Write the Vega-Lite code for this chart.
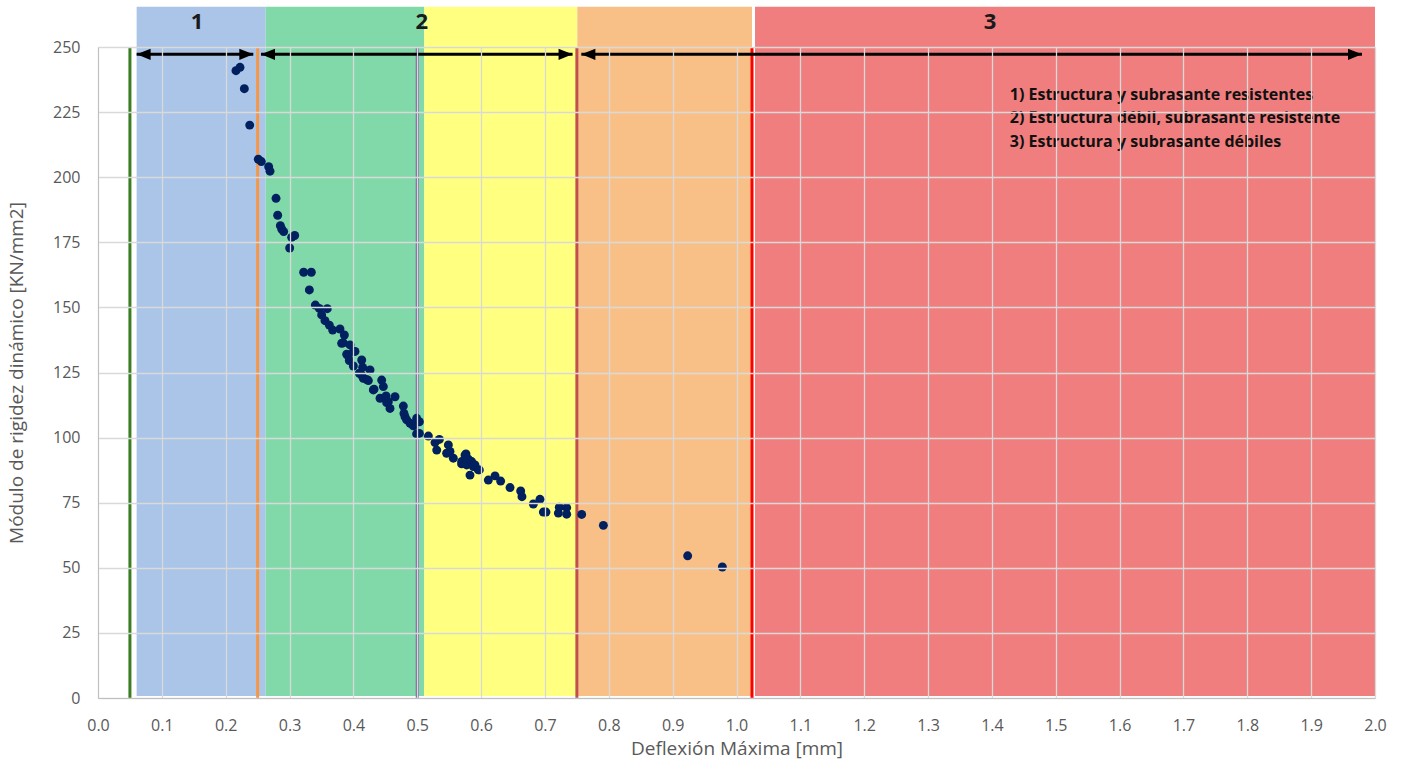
{
  "$schema": "https://vega.github.io/schema/vega-lite/v6.json",
  "width": 1277,
  "height": 651,
  "autosize": {"type": "none"},
  "padding": {"left": 98, "top": 47, "right": 29, "bottom": 69},
  "background": "white",
  "config": {
    "font": "Open Sans",
    "view": {"stroke": null},
    "axis": {
      "labelColor": "#595959",
      "titleColor": "#595959",
      "labelFontSize": 16,
      "titleFontSize": 19,
      "titleFontWeight": "normal",
      "domainColor": "#bfbfbf",
      "gridColor": "#d9d9d9",
      "gridWidth": 1.3,
      "ticks": false,
      "labelFlush": false
    }
  },
  "datasets": {
    "puntos": [
      {"deflexion": 0.2161, "modulo": 240.9}, {"deflexion": 0.2224, "modulo": 242.2},
      {"deflexion": 0.2292, "modulo": 234.0}, {"deflexion": 0.2376, "modulo": 220.0},
      {"deflexion": 0.2511, "modulo": 206.9}, {"deflexion": 0.2558, "modulo": 206.0},
      {"deflexion": 0.2673, "modulo": 204.0}, {"deflexion": 0.2694, "modulo": 202.3},
      {"deflexion": 0.2788, "modulo": 191.9}, {"deflexion": 0.2814, "modulo": 185.4},
      {"deflexion": 0.2856, "modulo": 181.4}, {"deflexion": 0.2877, "modulo": 180.1},
      {"deflexion": 0.2908, "modulo": 179.1}, {"deflexion": 0.3033, "modulo": 176.9},
      {"deflexion": 0.3080, "modulo": 177.6}, {"deflexion": 0.3002, "modulo": 172.8},
      {"deflexion": 0.3221, "modulo": 163.5}, {"deflexion": 0.3341, "modulo": 163.5},
      {"deflexion": 0.3310, "modulo": 156.7}, {"deflexion": 0.3404, "modulo": 150.9},
      {"deflexion": 0.3466, "modulo": 149.6}, {"deflexion": 0.3591, "modulo": 149.5},
      {"deflexion": 0.3503, "modulo": 147.1}, {"deflexion": 0.3555, "modulo": 144.9},
      {"deflexion": 0.3623, "modulo": 143.2}, {"deflexion": 0.3675, "modulo": 141.3},
      {"deflexion": 0.3790, "modulo": 141.7}, {"deflexion": 0.3858, "modulo": 139.4},
      {"deflexion": 0.3816, "modulo": 136.2}, {"deflexion": 0.3842, "modulo": 136.4},
      {"deflexion": 0.3947, "modulo": 135.6}, {"deflexion": 0.3895, "modulo": 132.0},
      {"deflexion": 0.3920, "modulo": 131.3}, {"deflexion": 0.3999, "modulo": 133.1},
      {"deflexion": 0.4025, "modulo": 133.1}, {"deflexion": 0.3936, "modulo": 129.6},
      {"deflexion": 0.3999, "modulo": 127.5}, {"deflexion": 0.4130, "modulo": 129.8},
      {"deflexion": 0.4145, "modulo": 127.0}, {"deflexion": 0.4260, "modulo": 126.0},
      {"deflexion": 0.4093, "modulo": 124.7}, {"deflexion": 0.4130, "modulo": 124.0},
      {"deflexion": 0.4155, "modulo": 122.8}, {"deflexion": 0.4208, "modulo": 122.3},
      {"deflexion": 0.4234, "modulo": 121.9}, {"deflexion": 0.4443, "modulo": 122.1},
      {"deflexion": 0.4469, "modulo": 119.6}, {"deflexion": 0.4323, "modulo": 118.6},
      {"deflexion": 0.4312, "modulo": 118.3}, {"deflexion": 0.4417, "modulo": 115.1},
      {"deflexion": 0.4511, "modulo": 116.0}, {"deflexion": 0.4652, "modulo": 115.7},
      {"deflexion": 0.4521, "modulo": 113.4}, {"deflexion": 0.4547, "modulo": 113.8},
      {"deflexion": 0.4573, "modulo": 111.2}, {"deflexion": 0.4782, "modulo": 112.1},
      {"deflexion": 0.4792, "modulo": 109.3}, {"deflexion": 0.4808, "modulo": 108.0},
      {"deflexion": 0.4835, "modulo": 106.8}, {"deflexion": 0.4887, "modulo": 105.5},
      {"deflexion": 0.4939, "modulo": 104.5}, {"deflexion": 0.4991, "modulo": 107.4},
      {"deflexion": 0.5033, "modulo": 106.1}, {"deflexion": 0.5033, "modulo": 101.6},
      {"deflexion": 0.4990, "modulo": 101.4}, {"deflexion": 0.5174, "modulo": 100.6},
      {"deflexion": 0.5278, "modulo": 98.1}, {"deflexion": 0.5346, "modulo": 99.3},
      {"deflexion": 0.5305, "modulo": 95.2}, {"deflexion": 0.5487, "modulo": 97.2},
      {"deflexion": 0.5460, "modulo": 94.0}, {"deflexion": 0.5513, "modulo": 94.7},
      {"deflexion": 0.5565, "modulo": 92.1}, {"deflexion": 0.5696, "modulo": 90.8},
      {"deflexion": 0.5695, "modulo": 89.9}, {"deflexion": 0.5748, "modulo": 93.3},
      {"deflexion": 0.5763, "modulo": 93.7}, {"deflexion": 0.5800, "modulo": 91.7},
      {"deflexion": 0.5852, "modulo": 90.8}, {"deflexion": 0.5904, "modulo": 89.5},
      {"deflexion": 0.5972, "modulo": 87.6}, {"deflexion": 0.5774, "modulo": 89.5},
      {"deflexion": 0.5826, "modulo": 85.6}, {"deflexion": 0.5878, "modulo": 88.9},
      {"deflexion": 0.5957, "modulo": 87.6}, {"deflexion": 0.6113, "modulo": 83.7},
      {"deflexion": 0.6218, "modulo": 85.3}, {"deflexion": 0.6306, "modulo": 83.3},
      {"deflexion": 0.6453, "modulo": 80.8}, {"deflexion": 0.6620, "modulo": 79.5},
      {"deflexion": 0.6640, "modulo": 77.3}, {"deflexion": 0.6818, "modulo": 74.5},
      {"deflexion": 0.6922, "modulo": 76.3}, {"deflexion": 0.6975, "modulo": 71.4},
      {"deflexion": 0.7016, "modulo": 71.4}, {"deflexion": 0.7210, "modulo": 71.0},
      {"deflexion": 0.7225, "modulo": 73.3}, {"deflexion": 0.7340, "modulo": 73.1},
      {"deflexion": 0.7340, "modulo": 70.6}, {"deflexion": 0.7575, "modulo": 70.5},
      {"deflexion": 0.7915, "modulo": 66.3}, {"deflexion": 0.9235, "modulo": 54.6},
      {"deflexion": 0.9778, "modulo": 50.3}
    ],
    "zonas": [
      {"zona": "A", "desde": 0.0605, "hasta": 0.2626},
      {"zona": "B", "desde": 0.2626, "hasta": 0.5110},
      {"zona": "C", "desde": 0.5110, "hasta": 0.7507},
      {"zona": "D", "desde": 0.7507, "hasta": 1.0243},
      {"zona": "E", "desde": 1.0290, "hasta": 2.0}
    ],
    "limites": [
      {"tipo": "L1", "valor": 0.05},
      {"tipo": "L2", "valor": 0.25},
      {"tipo": "L3", "valor": 0.5},
      {"tipo": "L4", "valor": 0.75},
      {"tipo": "L5", "valor": 1.0243}
    ],
    "flechas": [
      {"inicio": 0.0605, "fin": 0.2432},
      {"inicio": 0.2553, "fin": 0.7432},
      {"inicio": 0.7570, "fin": 1.9796}
    ],
    "numeros": [
      {"x": 0.155, "etiqueta": "1"},
      {"x": 0.507, "etiqueta": "2"},
      {"x": 1.397, "etiqueta": "3"}
    ],
    "leyenda": [
      {"x": 1.428, "y": 231.6, "texto": "1) Estructura y subrasante resistentes"},
      {"x": 1.428, "y": 222.6, "texto": "2) Estructura débil, subrasante resistente"},
      {"x": 1.428, "y": 213.5, "texto": "3) Estructura y subrasante débiles"}
    ]
  },
  "layer": [
    {
      "data": {"name": "zonas"},
      "mark": {"type": "rect", "clip": false},
      "encoding": {
        "x": {"field": "desde", "type": "quantitative",
              "scale": {"domain": [0, 2], "nice": false},
              "axis": {"title": "Deflexión Máxima [mm]", "values": [0, 0.1, 0.2, 0.3, 0.4, 0.5, 0.6, 0.7, 0.8, 0.9, 1.0, 1.1, 1.2, 1.3, 1.4, 1.5, 1.6, 1.7, 1.8, 1.9, 2.0], "format": ".1f", "labelPadding": 19, "titlePadding": 6, "grid": true, "zindex": 1}},
        "x2": {"field": "hasta"},
        "y": {"datum": 0.8, "type": "quantitative",
              "scale": {"domain": [0, 250], "nice": false},
              "axis": {"title": "Módulo de rigidez dinámico [KN/mm2]", "values": [0, 25, 50, 75, 100, 125, 150, 175, 200, 225, 250], "labelPadding": 18, "titlePadding": 26, "grid": true, "zindex": 1}},
        "y2": {"datum": 265.5},
        "fill": {"field": "zona", "type": "nominal", "legend": null,
                 "scale": {"domain": ["A", "B", "C", "D", "E"], "range": ["#aac5e8", "#81d9a9", "#ffff80", "#f8c087", "#f07e7e"]}}
      }
    },
    {
      "data": {"name": "limites"},
      "mark": {"type": "rule", "strokeWidth": 3},
      "encoding": {
        "x": {"field": "valor", "type": "quantitative"},
        "y": {"datum": 0, "type": "quantitative"},
        "y2": {"datum": 250},
        "stroke": {"field": "tipo", "type": "nominal", "legend": null,
                   "scale": {"domain": ["L1", "L2", "L3", "L4", "L5"], "range": ["#3a7d22", "#f79646", "#8064a2", "#c0504d", "#ff0000"]}}
      }
    },
    {
      "data": {"name": "flechas"},
      "mark": {"type": "rule", "strokeWidth": 3, "color": "black"},
      "encoding": {
        "x": {"field": "inicio", "type": "quantitative"},
        "x2": {"field": "fin"},
        "y": {"datum": 247.2, "type": "quantitative"}
      }
    },
    {
      "data": {"name": "flechas"},
      "mark": {"type": "point", "filled": true, "color": "black", "opacity": 1, "size": 196, "shape": "M0,0L2,-0.8L2,0.8Z"},
      "encoding": {
        "x": {"field": "inicio", "type": "quantitative"},
        "y": {"datum": 247.2, "type": "quantitative"}
      }
    },
    {
      "data": {"name": "flechas"},
      "mark": {"type": "point", "filled": true, "color": "black", "opacity": 1, "size": 196, "shape": "M0,0L-2,-0.8L-2,0.8Z"},
      "encoding": {
        "x": {"field": "fin", "type": "quantitative"},
        "y": {"datum": 247.2, "type": "quantitative"}
      }
    },
    {
      "data": {"name": "numeros"},
      "mark": {"type": "text", "fontSize": 22, "fontWeight": "bold", "color": "#1a1a1a", "baseline": "middle", "align": "center"},
      "encoding": {
        "x": {"field": "x", "type": "quantitative"},
        "y": {"datum": 259.6, "type": "quantitative"},
        "text": {"field": "etiqueta"}
      }
    },
    {
      "data": {"name": "leyenda"},
      "mark": {"type": "text", "fontSize": 16, "fontWeight": "bold", "color": "#111111", "baseline": "middle", "align": "left"},
      "encoding": {
        "x": {"field": "x", "type": "quantitative"},
        "y": {"field": "y", "type": "quantitative"},
        "text": {"field": "texto"}
      }
    },
    {
      "data": {"name": "puntos"},
      "mark": {"type": "circle", "size": 80, "color": "#002060", "opacity": 1},
      "encoding": {
        "x": {"field": "deflexion", "type": "quantitative"},
        "y": {"field": "modulo", "type": "quantitative"}
      }
    }
  ]
}
